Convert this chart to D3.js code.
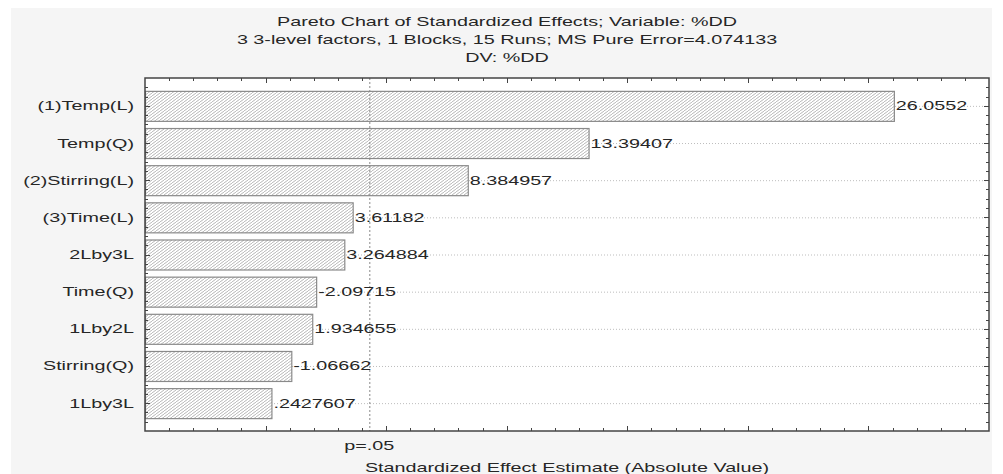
<!DOCTYPE html>
<html>
<head>
<meta charset="utf-8">
<script src="https://cdn.jsdelivr.net/npm/d3@7"></script>
<style>
  body { margin: 0; background: #fff; }
  svg text { font-family: "Liberation Sans", Arial, sans-serif; fill: #262626; }
</style>
</head>
<body>
<svg id="chart" width="1003" height="474"></svg>
<script>
// data
const factors = ["(1)Temp(L)", "Temp(Q)", "(2)Stirring(L)", "(3)Time(L)", "2Lby3L", "Time(Q)", "1Lby2L", "Stirring(Q)", "1Lby3L"];
const effects = [26.0552, 13.39407, 8.384957, 3.61182, 3.264884, -2.09715, 1.934655, -1.06662, 0.2427607];
const effectLabels = ["26.0552", "13.39407", "8.384957", "3.61182", "3.264884", "-2.09715", "1.934655", "-1.06662", ".2427607"];
const titleLines = ["Pareto Chart of Standardized Effects; Variable: %DD",
                    "3 3-level factors, 1 Blocks, 15 Runs; MS Pure Error=4.074133",
                    "DV: %DD"];
const pCrit = 4.302653;   // t(2) at p=.05
const xDomain = [-5, 30];

const svg = d3.select("#chart");
const SX = 1.58; // the picture is stretched sideways, so text is too
const m = {left: 145, right: 989, top: 78, bottom: 431};

// grey panel behind everything
svg.append("rect").attr("x", 11).attr("y", 8).attr("width", 981).attr("height", 466).attr("fill", "#f5f5f5");

const x = d3.scaleLinear().domain(xDomain).range([m.left, m.right]);
const y = d3.scaleLinear().domain([-0.75, factors.length - 0.25]).range([m.top, m.bottom]);
const barH = 30;

// hatch pattern
const defs = svg.append("defs");
const pat = defs.append("pattern").attr("id", "hatch").attr("patternUnits", "userSpaceOnUse")
  .attr("width", 4).attr("height", 3);
pat.append("rect").attr("width", 4).attr("height", 3).attr("fill", "#fff");
pat.append("path").attr("d", "M-1,3.75 L5,-0.75").attr("stroke", "#a3a3a3").attr("stroke-width", 0.8);

function txt(g, str, tx, ty, anchor, size) {
  return g.append("text")
    .attr("transform", `translate(${tx},${ty}) scale(${SX},1)`)
    .attr("text-anchor", anchor)
    .attr("font-size", size || 12.5)
    .text(str);
}

// titles
titleLines.forEach((t, i) => txt(svg, t, 507, 26 + i * 18, "middle"));

// plot area
svg.append("rect").attr("x", m.left).attr("y", m.top)
  .attr("width", m.right - m.left).attr("height", m.bottom - m.top).attr("fill", "#fff");

// dotted gridlines at each bar
svg.append("g").selectAll("line").data(factors).join("line")
  .attr("x1", m.left).attr("x2", m.right)
  .attr("y1", (d, i) => y(i) + 0.5).attr("y2", (d, i) => y(i) + 0.5)
  .attr("stroke", "#bdbdbd").attr("stroke-width", 1).attr("stroke-dasharray", "1,2");

// bars
svg.append("g").selectAll("rect").data(effects).join("rect")
  .attr("x", x(xDomain[0]) + 0.5)
  .attr("y", (d, i) => y(i) - barH / 2 + 0.5)
  .attr("width", d => x(Math.abs(d)) - x(xDomain[0]))
  .attr("height", barH)
  .attr("fill", "url(#hatch)")
  .attr("stroke", "#8a8a8a").attr("stroke-width", 1.2);

// p=.05 line
svg.append("line").attr("x1", x(pCrit) + 0.5).attr("x2", x(pCrit) + 0.5)
  .attr("y1", m.top).attr("y2", m.bottom)
  .attr("stroke", "#888").attr("stroke-width", 1).attr("stroke-dasharray", "2,2");

// value labels
const lab = svg.append("g");
effects.forEach((d, i) => txt(lab, effectLabels[i], x(Math.abs(d)) + 2, y(i) + 4.5, "start"));

// category labels
const cat = svg.append("g");
factors.forEach((f, i) => txt(cat, f, 134, y(i) + 4.5, "end"));

// ticks on all four sides, pointing inward
const xt = d3.range(xDomain[0] + 1, xDomain[1], 1);
const tk = svg.append("g").attr("stroke", "#444").attr("stroke-width", 1);
xt.forEach(v => {
  const len = v % 5 === 0 ? 5 : 3;
  const px = Math.round(x(v)) + 0.5;
  tk.append("line").attr("x1", px).attr("x2", px).attr("y1", m.bottom).attr("y2", m.bottom - len);
  tk.append("line").attr("x1", px).attr("x2", px).attr("y1", m.top).attr("y2", m.top + len);
});
const yt = d3.range(-0.5, factors.length - 0.25, 0.25);
yt.forEach(v => {
  const len = Number.isInteger(v) ? 5 : 3;
  const py = Math.round(y(v)) + 0.5;
  tk.append("line").attr("x1", m.left).attr("x2", m.left + len).attr("y1", py).attr("y2", py);
  tk.append("line").attr("x1", m.right).attr("x2", m.right - len).attr("y1", py).attr("y2", py);
});

// frame
svg.append("rect").attr("x", m.left).attr("y", m.top)
  .attr("width", m.right - m.left).attr("height", m.bottom - m.top)
  .attr("fill", "none").attr("stroke", "#444").attr("stroke-width", 1.5);

// bottom texts
txt(svg, "p=.05", x(pCrit), 450, "middle");
txt(svg, "Standardized Effect Estimate (Absolute Value)", (m.left + m.right) / 2, 472, "middle");
</script>
</body>
</html>
